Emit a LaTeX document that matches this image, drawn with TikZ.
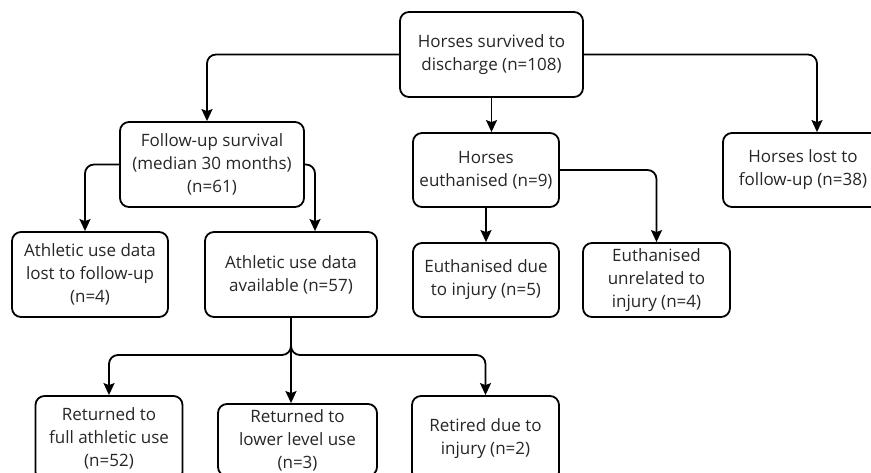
\documentclass[tikz,border=0pt]{standalone}
\usepackage{fontspec}
\setmainfont{Open Sans}
\usetikzlibrary{positioning, calc}
\usetikzlibrary{arrows.meta}

\begin{document}
\begin{tikzpicture}[x=1pt,y=-1pt,->,>={Stealth[length=12pt,width=11pt,inset=2pt]},line width=1.8pt,rounded corners=9pt]
	\def \rowone{54.5}
	\def \rowtwo{164.5}
	\def \rowtwob{170}
	\def \rowthree{274.5}
	\def \rowthreeb{280}
	\def \rowfour{438.5}
	\def \splitlevel{355}
	\tikzstyle{t-node}=[rectangle,draw=black,line width=1.8pt,rounded corners=9pt,align=center,inner sep=0pt,minimum height=85pt,text=black!85,font=\fontsize{17}{23}\selectfont]
	\tikzstyle{s-node}=[t-node,minimum height=74pt]
	\useasboundingbox (0,0) rectangle (871,473);

	% discharge
	\node[t-node,minimum width=183pt] 	(surv)	at (491.5,\rowone)	{Horses survived to\\discharge (n=108)};

	% follow-up
	\node[t-node,minimum width=184pt] 	(fu)	at (212,\rowtwo)	{Follow-up survival\\(median 30 months)\\(n=61)};
	\node[s-node,minimum width=146pt] 	(euth)	at (486,\rowtwob)	{Horses\\euthanised (n=9)};
	\node[s-node,minimum width=160pt] 	(lost)	at (803,\rowtwob)	{Horses lost to\\follow-up (n=38)};

	% athletic use / euthanasia
	\node[t-node,minimum width=156pt] 	(alost)	at (90,\rowthree)	{Athletic use data\\lost to follow-up\\(n=4)};
	\node[t-node,minimum width=172pt] 	(avail)	at (291,\rowthree)	{Athletic use data\\available (n=57)};
	\node[s-node,minimum width=146pt] 	(einj)	at (486,\rowthreeb)	{Euthanised due\\to injury (n=5)};
	\node[s-node,minimum width=147pt] 	(eunr)	at (656.5,\rowthreeb)	{Euthanised\\unrelated to\\injury (n=4)};

	% outcome
	\node[t-node,minimum width=147pt] 	(full)	at (109,\rowfour)	{Returned to\\full athletic use\\(n=52)};
	\node[t-node,minimum width=159pt,minimum height=72pt] 	(lower)	at (297.5,440)	{Returned to\\lower level use\\(n=3)};
	\node[t-node,minimum width=147pt] 	(retd)	at (485.5,\rowfour)	{Retired due to\\injury (n=2)};

	\coordinate (split) at (291,\splitlevel);

	\draw (surv.west) -| ([xshift=-5pt]fu.north);
	\draw (surv.south) -- (surv.south |- euth.north);
	\draw (surv.east) -| ([xshift=14pt]lost.north);
	\draw (fu.west) -| ([xshift=-5pt]alost.north);
	\draw (fu.east) -| ([xshift=24pt]avail.north);
	\draw (euth.south) -- (einj.north);
	\draw (euth.east) -| (eunr.north);
	%\draw (avail.south) -- (split);
	\draw (avail.south) -- (split) -| (full.north);
	\draw (avail.south) -- (avail.south |- lower.north);
	\draw (avail.south) -- (split) -| (retd.north);
\end{tikzpicture}
\end{document}
